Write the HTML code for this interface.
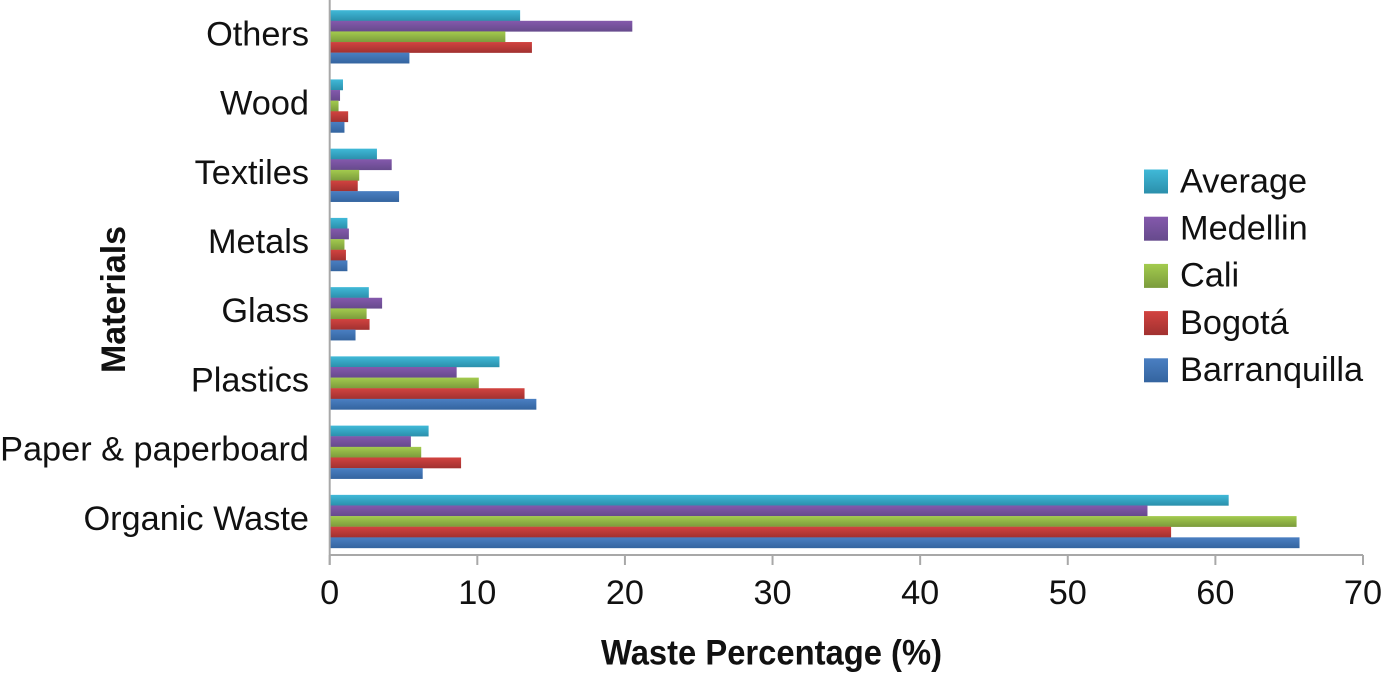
<!DOCTYPE html>
<html lang="en">
<head>
<meta charset="utf-8">
<title>Waste Percentage by Material</title>
<style>
html,body{margin:0;padding:0;background:#fff;width:1384px;height:675px;overflow:hidden}
svg{display:block}
text{font-family:"Liberation Sans",sans-serif;fill:#111}
</style>
</head>
<body>
<svg id="chart" width="1384" height="675" viewBox="0 0 1384 675" xmlns="http://www.w3.org/2000/svg">
<defs>
<linearGradient id="g-average" x1="0" y1="0" x2="0" y2="1"><stop offset="0" stop-color="#40b9d8"/><stop offset="1" stop-color="#2b8fab"/></linearGradient>
<linearGradient id="g-medellin" x1="0" y1="0" x2="0" y2="1"><stop offset="0" stop-color="#8459ac"/><stop offset="1" stop-color="#664a8c"/></linearGradient>
<linearGradient id="g-cali" x1="0" y1="0" x2="0" y2="1"><stop offset="0" stop-color="#a3cb4e"/><stop offset="1" stop-color="#7b9b3c"/></linearGradient>
<linearGradient id="g-bogota" x1="0" y1="0" x2="0" y2="1"><stop offset="0" stop-color="#d24340"/><stop offset="1" stop-color="#a13130"/></linearGradient>
<linearGradient id="g-barranquilla" x1="0" y1="0" x2="0" y2="1"><stop offset="0" stop-color="#4a7fc2"/><stop offset="1" stop-color="#34649f"/></linearGradient>
</defs>
</svg>
<script>
const categories = ["Organic Waste", "Paper & paperboard", "Plastics", "Glass", "Metals", "Textiles", "Wood", "Others"];
const seriesNames = ["Average", "Medellin", "Cali", "Bogotá", "Barranquilla"];
const seriesIds = ["average", "medellin", "cali", "bogota", "barranquilla"];
const average = [60.9, 6.7, 11.5, 2.65, 1.2, 3.2, 0.9, 12.9];
const medellin = [55.4, 5.5, 8.6, 3.55, 1.3, 4.2, 0.7, 20.5];
const cali = [65.5, 6.2, 10.1, 2.5, 1.0, 2.0, 0.6, 11.9];
const bogota = [57.0, 8.9, 13.2, 2.7, 1.1, 1.9, 1.25, 13.7];
const barranquilla = [65.7, 6.3, 14.0, 1.75, 1.2, 4.7, 1.0, 5.4];
const xTickLabels = [0, 10, 20, 30, 40, 50, 60, 70];

const allSeries = [average, medellin, cali, bogota, barranquilla];
const svg = document.getElementById('chart');
const NS = 'http://www.w3.org/2000/svg';
const plot = {left: 329.7, right: 1363, bottom: 555, band: 69.24, barH: 10.62, inset: 9.1};
const xMax = 70;
const axisX = v => plot.left + (v / xMax) * (plot.right - plot.left);
const bandTop = i => plot.bottom - (i + 1) * plot.band;
const make = (tag, attrs, text) => {
  const el = document.createElementNS(NS, tag);
  for (const k in attrs) el.setAttribute(k, attrs[k]);
  if (text !== undefined) el.textContent = text;
  return el;
};

// bars
categories.forEach((cat, c) => {
  allSeries.forEach((vals, s) => {
    const r = make('rect', {
      x: plot.left,
      y: bandTop(c) + plot.inset + s * plot.barH,
      width: axisX(vals[c]) - plot.left,
      height: plot.barH + 0.2,
      fill: 'url(#g-' + seriesIds[s] + ')'
    });
    
    
    svg.appendChild(r);
  });
});

// axes
const yAxis = make('line', {x1: plot.left, x2: plot.left, y1: 0, y2: 565, stroke: '#a8a8a8', 'stroke-width': 2});


svg.appendChild(yAxis);
const xAxis = make('line', {x1: plot.left, x2: plot.right, y1: plot.bottom, y2: plot.bottom, stroke: '#a8a8a8', 'stroke-width': 2});


svg.appendChild(xAxis);

xTickLabels.forEach(t => {
  const tick = make('line', {x1: axisX(t), x2: axisX(t), y1: plot.bottom, y2: 565, stroke: '#a8a8a8', 'stroke-width': 2});
  
  
  svg.appendChild(tick);
  const lab = make('text', {x: axisX(t), y: 604, 'text-anchor': 'middle', 'font-size': 34.3}, t);
  
  
  svg.appendChild(lab);
});

categories.forEach((cat, c) => {
  const lab = make('text', {x: 309, y: bandTop(c) + 44.2, 'text-anchor': 'end', 'font-size': 34.3}, cat);
  
  
  svg.appendChild(lab);
});

// axis titles
const xTitle = make('text', {x: 771.5, y: 664.5, 'text-anchor': 'middle', 'font-size': 35, 'font-weight': 'bold', textLength: 341, lengthAdjust: 'spacingAndGlyphs'}, 'Waste Percentage (%)');


svg.appendChild(xTitle);
const yTitle = make('text', {transform: 'translate(125,299.5) rotate(-90)', 'text-anchor': 'middle', 'font-size': 34, 'font-weight': 'bold', textLength: 147, lengthAdjust: 'spacingAndGlyphs'}, 'Materials');


svg.appendChild(yTitle);

// legend
seriesNames.forEach((name, s) => {
  const sw = make('rect', {x: 1144, y: 169.5 + s * 47.2, width: 24, height: 24, fill: 'url(#g-' + seriesIds[s] + ')'});
  
  
  svg.appendChild(sw);
  const lab = make('text', {x: 1180, y: 192.5 + s * 47.1, 'font-size': 34.3}, name);
  
  
  svg.appendChild(lab);
});
</script>
</body>
</html>
